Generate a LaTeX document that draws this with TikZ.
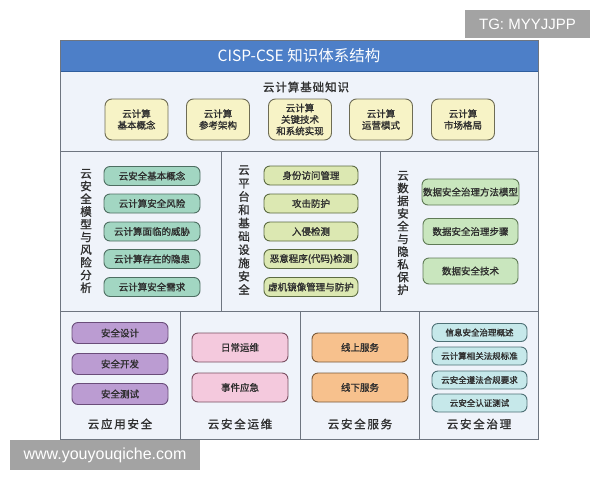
\documentclass[tikz,border=0pt]{standalone}
\usepackage{fontspec}
\setmainfont{Noto Sans CJK SC}[AutoFakeBold=1.2]
\newfontfamily\wmfont{Liberation Sans}
\definecolor{titleblue}{HTML}{4D7FC8}
\definecolor{titleedge}{HTML}{2F5E9E}
\definecolor{panelbg}{HTML}{EFF3FA}
\definecolor{frameedge}{HTML}{6E7580}
\definecolor{txt}{HTML}{2E2E2E}
\definecolor{cTop}{HTML}{F7F3C6}\definecolor{eTop}{HTML}{6E6C55}
\definecolor{cTeal}{HTML}{A2D6C2}\definecolor{eTeal}{HTML}{4E6E62}
\definecolor{cLime}{HTML}{DCE8B2}\definecolor{eLime}{HTML}{5C6B42}
\definecolor{cGreen}{HTML}{C9E6BE}\definecolor{eGreen}{HTML}{5F7A56}
\definecolor{cPurple}{HTML}{BB9CD2}\definecolor{ePurple}{HTML}{6A4D7A}
\definecolor{cPink}{HTML}{F4C9DD}\definecolor{ePink}{HTML}{7A5062}
\definecolor{cOrange}{HTML}{F7C18D}\definecolor{eOrange}{HTML}{7A5A3A}
\definecolor{cCyan}{HTML}{C6E8EA}\definecolor{eCyan}{HTML}{4E7075}
\definecolor{wmgray}{HTML}{A3A3A3}
\begin{document}
\begin{tikzpicture}[x=1pt,y=-1pt,
  box/.style={draw, rounded corners=6pt, line width=0.9pt, inner sep=1pt, align=center,
    text=txt, font=\fontsize{9.5}{11.5}\selectfont\bfseries},
  topbox/.style={box, fill=cTop, draw=eTop, minimum width=63pt, minimum height=41pt, rounded corners=7pt},
  tealbox/.style={box, fill=cTeal, draw=eTeal, minimum width=96pt, minimum height=19pt},
  limebox/.style={box, fill=cLime, draw=eLime, minimum width=94pt, minimum height=19pt},
  greenbox/.style={box, fill=cGreen, draw=eGreen, minimum width=95pt, minimum height=26pt},
  purplebox/.style={box, fill=cPurple, draw=ePurple, minimum width=96pt, minimum height=21pt},
  pinkbox/.style={box, fill=cPink, draw=ePink, minimum width=96pt, minimum height=29pt},
  orangebox/.style={box, fill=cOrange, draw=eOrange, minimum width=96pt, minimum height=29pt},
  cyanbox/.style={box, fill=cCyan, draw=eCyan, minimum width=95pt, minimum height=18pt, font=\fontsize{8.5}{10}\selectfont\bfseries},
  vtitle/.style={align=center, text=txt, inner sep=0pt, font=\fontsize{11.5}{12.7}\selectfont\bfseries},
  htitle/.style={text=txt, inner sep=0pt, font=\fontsize{11.5}{13}\selectfont\bfseries\addfontfeatures{LetterSpace=15}},
  panel/.style={fill=panelbg, draw=frameedge, line width=0.9pt},
  wm/.style={fill=wmgray, text=white, inner sep=0pt, font=\wmfont\fontsize{15}{17}\selectfont}
]
\useasboundingbox (0,0) rectangle (600,480);
\fill[white] (0,0) rectangle (600,480);

% watermark top
\node[wm, minimum width=125pt, minimum height=28pt] (tg) at (527.5,24) {TG: MYYJJPP};

% panels
\draw[panel] (60,71) rectangle (538,151);
\draw[panel] (60,151) rectangle (221,311);
\draw[panel] (221,151) rectangle (380,311);
\draw[panel] (380,151) rectangle (538,311);
\draw[panel] (60,311) rectangle (180,439);
\draw[panel] (180,311) rectangle (300,439);
\draw[panel] (300,311) rectangle (419,439);
\draw[panel] (419,311) rectangle (538,439);
\draw[fill=titleblue, draw=titleedge, line width=0.9pt] (60,40) rectangle (538,71);
\draw[frameedge, line width=1pt] (60,40) rectangle (538,439);

\node[text=white, font=\fontsize{15.5}{17}\selectfont] (title) at (299,56) {CISP-CSE 知识体系结构};

% top section
\node[htitle, font=\fontsize{11.5}{13}\selectfont\bfseries\addfontfeatures{LetterSpace=8}] (toptitle) at (306,87) {云计算基础知识};
\node[topbox] (t1) at (136.5,119.5) {云计算\\基本概念};
\node[topbox] (t2) at (218,119.5) {云计算\\参考架构};
\node[topbox] (t3) at (300,119.5) {云计算\\关键技术\\和系统实现};
\node[topbox] (t4) at (381,119.5) {云计算\\运营模式};
\node[topbox] (t5) at (463,119.5) {云计算\\市场格局};

% middle left
\node[vtitle] (lt) at (86,231) {云\\安\\全\\模\\型\\与\\风\\险\\分\\析};
\node[tealbox] (l1) at (152,176) {云安全基本概念};
\node[tealbox] (l2) at (152,203.5) {云计算安全风险};
\node[tealbox] (l3) at (152,231.5) {云计算面临的威胁};
\node[tealbox] (l4) at (152,259) {云计算存在的隐患};
\node[tealbox] (l5) at (152,287) {云计算安全需求};

% middle center
\node[vtitle, font=\fontsize{11.5}{13.3}\selectfont\bfseries] (ct) at (244,230) {云\\平\\台\\和\\基\\础\\设\\施\\安\\全};
\node[limebox] (c1) at (311,175.5) {身份访问管理};
\node[limebox] (c2) at (311,203.5) {攻击防护};
\node[limebox] (c3) at (311,231.5) {入侵检测};
\node[limebox] (c4) at (311,259) {恶意程序(代码)检测};
\node[limebox] (c5) at (311,287) {虚机镜像管理与防护};

% middle right
\node[vtitle] (rt) at (403,233) {云\\数\\据\\安\\全\\与\\隐\\私\\保\\护};
\node[greenbox] (r1) at (470.5,192) {数据安全治理方法模型};
\node[greenbox] (r2) at (470.5,231.5) {数据安全治理步骤};
\node[greenbox] (r3) at (470.5,271) {数据安全技术};

% bottom col 1
\node[purplebox] (a1) at (120,333) {安全设计};
\node[purplebox] (a2) at (120,364) {安全开发};
\node[purplebox] (a3) at (120,394) {安全测试};
\node[htitle] (at) at (120,424) {云应用安全};

% bottom col 2
\node[pinkbox] (o1) at (240,347.5) {日常运维};
\node[pinkbox] (o2) at (240,387.5) {事件应急};
\node[htitle] (ot) at (240,424) {云安全运维};

% bottom col 3
\node[orangebox] (s1) at (360,347.5) {线上服务};
\node[orangebox] (s2) at (360,387.5) {线下服务};
\node[htitle] (st) at (360,424) {云安全服务};

% bottom col 4
\node[cyanbox] (g1) at (479.5,332.5) {信息安全治理概述};
\node[cyanbox] (g2) at (479.5,356) {云计算相关法规标准};
\node[cyanbox] (g3) at (479.5,380) {云安全遵法合规要求};
\node[cyanbox] (g4) at (479.5,403) {云安全认证测试};
\node[htitle] (gt) at (479,424) {云安全治理};

% watermark bottom
\node[wm, minimum width=190pt, minimum height=30pt, font=\wmfont\fontsize{16}{18}\selectfont] (www) at (105,455) {www.youyouqiche.com};
\end{tikzpicture}
\end{document}
